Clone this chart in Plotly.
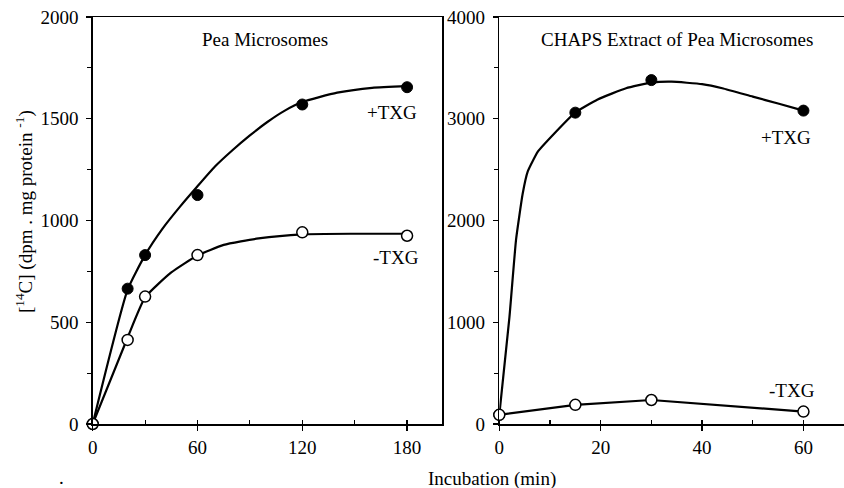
import plotly.graph_objects as go

# ---- data ----
# Left panel: Pea Microsomes (time in min, dpm/mg protein)
pea_time = [0, 20, 30, 60, 120, 180]
pea_plus = [0, 665, 830, 1125, 1570, 1655]
pea_minus = [0, 413, 626, 830, 942, 925]
# fitted curves drawn in the reference
pea_plus_fit_t = [0, 20, 30, 40, 50, 60, 70, 80, 90, 100, 110, 120, 140, 160, 180]
pea_plus_fit_v = [0, 660, 830, 960, 1068, 1168, 1265, 1345, 1418, 1484, 1540, 1582, 1628, 1652, 1660]
pea_minus_fit_t = [0, 20, 30, 45, 60, 75, 95, 120, 150, 180]
pea_minus_fit_v = [0, 425, 622, 745, 828, 880, 912, 932, 935, 935]

# Right panel: CHAPS extract of pea microsomes
chaps_time = [0, 15, 30, 60]
chaps_plus = [90, 3060, 3380, 3080]
chaps_minus = [90, 188, 236, 122]
chaps_plus_fit_t = [0, 2, 3.3, 4.6, 5.6, 7.6, 10.9, 15, 19.4, 25, 30, 34, 40, 44, 50, 55, 60]
chaps_plus_fit_v = [90, 1050, 1810, 2260, 2480, 2676, 2857, 3062, 3190, 3300, 3355, 3364, 3340, 3300, 3217, 3150, 3080]

left_xticks = [0, 60, 120, 180]
left_yticks = [0, 500, 1000, 1500, 2000]
right_xticks = [0, 20, 40, 60]
right_yticks = [0, 1000, 2000, 3000, 4000]

W, H = 844, 488
def fx(p):
    return p / W
def fy(p):
    return 1 - p / H

FONT = "Liberation Serif, Times New Roman, serif"
LW = 2.2

fig = go.Figure()

# left panel
fig.add_trace(go.Scatter(x=pea_plus_fit_t, y=pea_plus_fit_v, mode="lines",
                         line=dict(color="black", width=LW, shape="spline", smoothing=0.5),
                         xaxis="x", yaxis="y", hoverinfo="skip"))
fig.add_trace(go.Scatter(x=pea_minus_fit_t, y=pea_minus_fit_v, mode="lines",
                         line=dict(color="black", width=LW, shape="spline", smoothing=0.5),
                         xaxis="x", yaxis="y", hoverinfo="skip"))
fig.add_trace(go.Scatter(x=pea_time, y=pea_plus, mode="markers",
                         marker=dict(symbol="circle", size=11, color="black",
                                     line=dict(color="black", width=1)),
                         xaxis="x", yaxis="y", cliponaxis=False))
fig.add_trace(go.Scatter(x=pea_time, y=pea_minus, mode="markers",
                         marker=dict(symbol="circle", size=11, color="white",
                                     line=dict(color="black", width=1.5)),
                         xaxis="x", yaxis="y", cliponaxis=False))

# right panel
fig.add_trace(go.Scatter(x=chaps_plus_fit_t, y=chaps_plus_fit_v, mode="lines",
                         line=dict(color="black", width=LW, shape="spline", smoothing=0.4),
                         xaxis="x2", yaxis="y2", hoverinfo="skip"))
fig.add_trace(go.Scatter(x=chaps_time, y=chaps_minus, mode="lines",
                         line=dict(color="black", width=LW),
                         xaxis="x2", yaxis="y2", hoverinfo="skip"))
fig.add_trace(go.Scatter(x=chaps_time, y=chaps_plus, mode="markers",
                         marker=dict(symbol="circle", size=11, color="black",
                                     line=dict(color="black", width=1)),
                         xaxis="x2", yaxis="y2", cliponaxis=False))
fig.add_trace(go.Scatter(x=chaps_time, y=chaps_minus, mode="markers",
                         marker=dict(symbol="circle", size=11, color="white",
                                     line=dict(color="black", width=1.5)),
                         xaxis="x2", yaxis="y2", cliponaxis=False))

ydom = [fy(424), fy(17)]
axis_common = dict(showline=True, linecolor="black", linewidth=1.5, showgrid=False,
                   zeroline=False, ticks="outside", ticklen=5, tickwidth=1.2,
                   tickcolor="black", tickfont=dict(family=FONT, size=19, color="black"),
                   automargin=False, fixedrange=True)

fig.update_layout(
    width=W, height=H,
    margin=dict(l=0, r=0, t=0, b=0),
    paper_bgcolor="white", plot_bgcolor="white",
    showlegend=False,
    xaxis=dict(domain=[fx(92.7), fx(442)], range=[0, 200], tickvals=left_xticks,
               mirror=True, anchor="y", ticklabelstandoff=1,
               minor=dict(dtick=30, ticks="inside", ticklen=4, tickcolor="black"),
               **axis_common),
    yaxis=dict(domain=ydom, range=[0, 2000], tickvals=left_yticks, mirror=True,
               anchor="x", ticklabelstandoff=4,
               minor=dict(dtick=250, ticks="outside", ticklen=4, tickcolor="black"),
               **axis_common),
    xaxis2=dict(domain=[fx(499.3), 1.0], range=[0, 68], tickvals=right_xticks,
                mirror=True, anchor="y2", ticklabelstandoff=1,
                minor=dict(dtick=10, ticks="inside", ticklen=4, tickcolor="black"),
                **axis_common),
    yaxis2=dict(domain=ydom, range=[0, 4000], tickvals=right_yticks, mirror=False,
                anchor="x2", ticklabelstandoff=4,
                minor=dict(dtick=500, ticks="outside", ticklen=4, tickcolor="black"),
                **axis_common),
)

def label(text, x, y, size=19, angle=0):
    fig.add_annotation(text=text, x=fx(x), y=fy(y), xref="paper", yref="paper",
                       showarrow=False, textangle=angle,
                       font=dict(family=FONT, size=size, color="black"),
                       xanchor="center", yanchor="middle")

label("Pea Microsomes", 265, 40)
label("+TXG", 392, 112)
label("-TXG", 396, 257)
label("CHAPS Extract of Pea Microsomes", 677, 40)
label("+TXG", 786, 137)
label("-TXG", 792, 390)
label("[<sup>14</sup>C] (dpm . mg protein <sup>-1</sup>)", 25, 212, angle=-90)
label("Incubation (min)", 492, 479)
label(".", 62, 477)

fig.write_html("out.html",
               config={"displayModeBar": False, "staticPlot": True},
               post_script="document.body.style.margin='0';document.body.style.overflow='hidden';")
